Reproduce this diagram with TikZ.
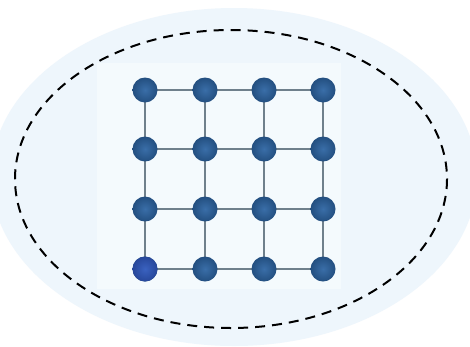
\documentclass[tikz,border=0pt]{standalone}
\begin{document}
\begin{tikzpicture}[x=1pt,y=-1pt,
  gnode/.style={circle,minimum size=25pt,inner sep=0pt,draw=none,
    inner color=nodeinner,outer color=nodeouter},
  gedge/.style={draw=edgegray,line width=2pt}]
\definecolor{ellfill}{HTML}{EEF6FC}
\definecolor{imgfill}{HTML}{F4FAFD}
\definecolor{nodeinner}{HTML}{3A6EA8}
\definecolor{nodeouter}{HTML}{234F80}
\definecolor{edgegray}{HTML}{6F808C}
\definecolor{startinner}{HTML}{3A62C0}
\definecolor{startouter}{HTML}{27479A}
\useasboundingbox (0,0) rectangle (470,346);
\fill[white] (0,0) rectangle (470,346);
\fill[ellfill] (234,177) ellipse [x radius=243, y radius=169];
\fill[imgfill] (97,63) rectangle (341,289);
\draw[line width=2pt,dash pattern=on 10pt off 7pt] (231,179) ellipse [x radius=216, y radius=149];
\foreach \c/\x in {0/145,1/205,2/264,3/323}{
  \foreach \r/\y in {0/90,1/149,2/209,3/269}{
    \coordinate (p\c\r) at (\x,\y);
  }
}
\foreach \c in {0,1,2,3}{
  \foreach \r/\s in {0/1,1/2,2/3}{
    \draw[gedge] (p\c\r) -- (p\c\s);
    \draw[gedge] (p\r\c) -- (p\s\c);
  }
}
\foreach \c in {0,1,2,3}{
  \foreach \r in {0,1,2,3}{
    \node[gnode] (n\c\r) at (p\c\r) {};
  }
}
\node[gnode,inner color=startinner,outer color=startouter] at (p03) {};
\end{tikzpicture}
\end{document}
